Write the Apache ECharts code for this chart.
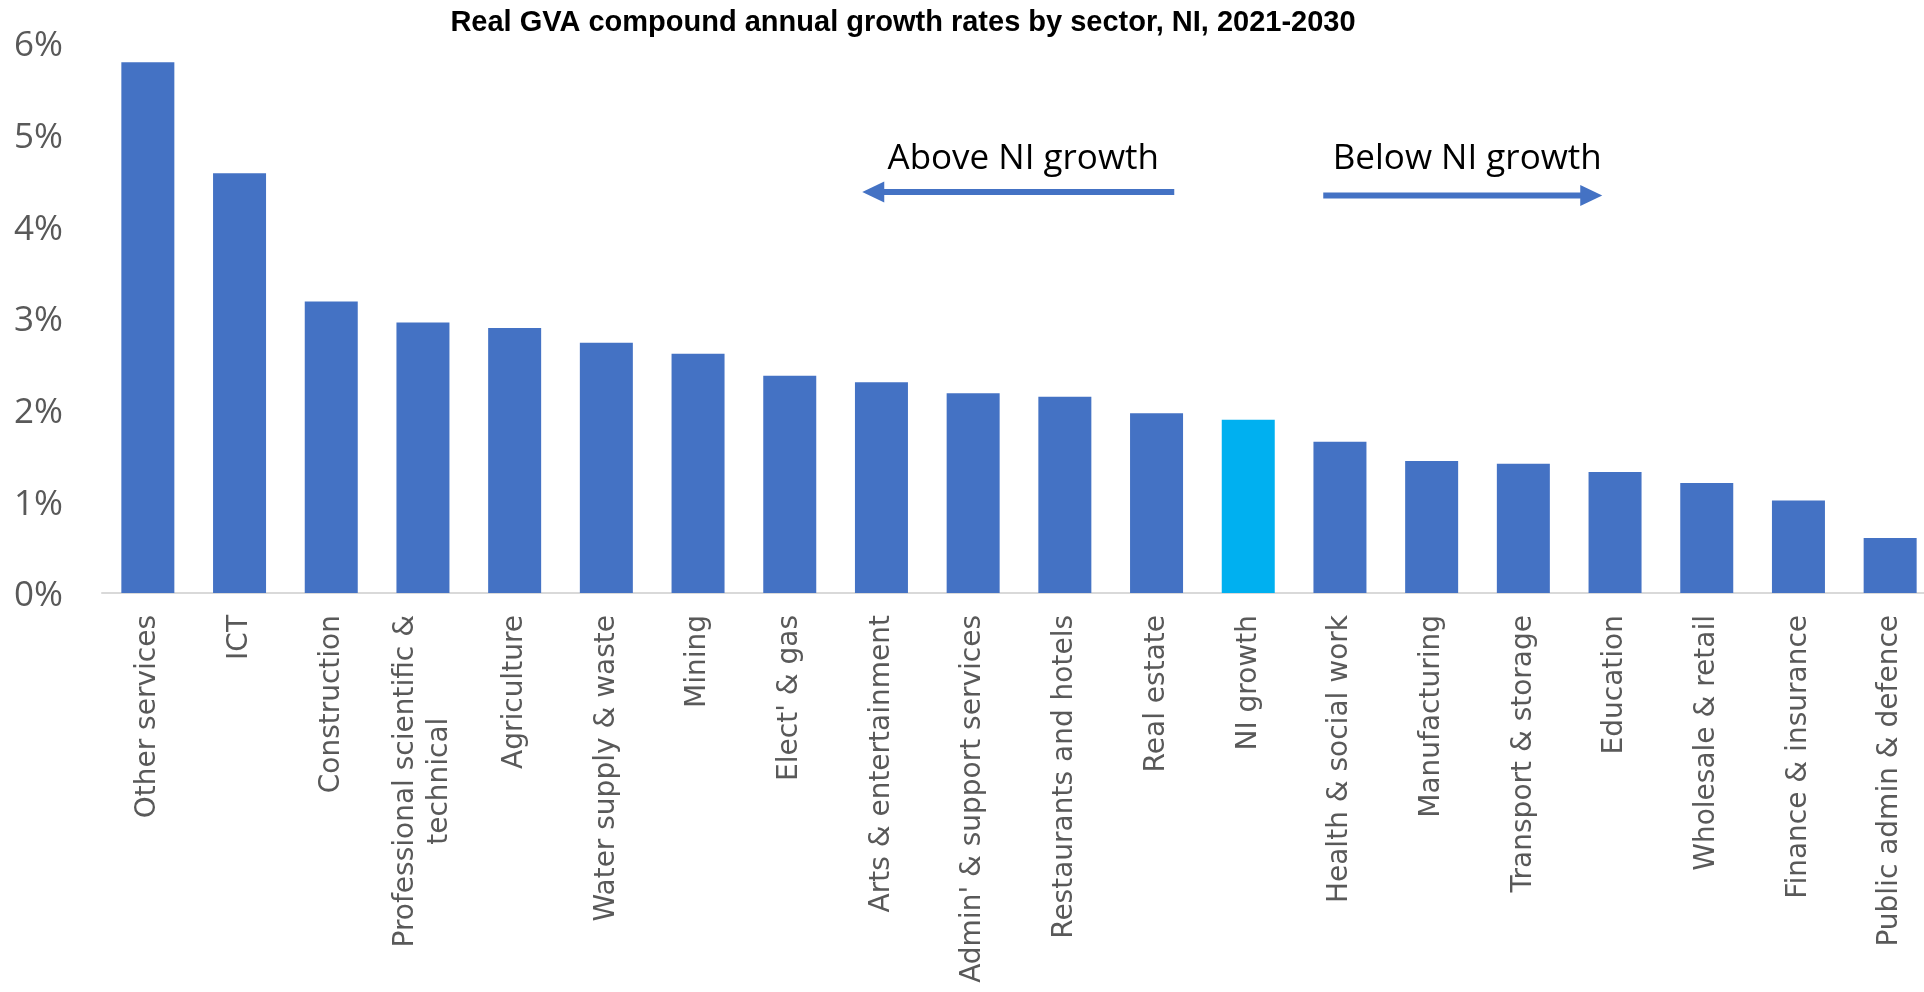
<!DOCTYPE html>
<html>
<head>
<meta charset="utf-8">
<title>Real GVA compound annual growth rates by sector, NI, 2021-2030</title>
<script src="https://cdn.jsdelivr.net/npm/echarts@6/dist/echarts.min.js"></script>
<style>
  html, body { margin: 0; padding: 0; background: #ffffff; }
  #chart { width: 1924px; height: 992px; }
</style>
</head>
<body>
<div id="chart"></div>
<script>
// Sectors, ordered from fastest to slowest growth
const sectors = [
  'Other services', 'ICT', 'Construction', 'Professional scientific &\ntechnical',
  'Agriculture', 'Water supply & waste', 'Mining', "Elect' & gas",
  'Arts & entertainment', "Admin' & support services", 'Restaurants and hotels',
  'Real estate', 'NI growth', 'Health & social work', 'Manufacturing',
  'Transport & storage', 'Education', 'Wholesale & retail', 'Finance & insurance',
  'Public admin & defence'
];

// Real GVA compound annual growth rate, % per year
const growthRates = [
  5.79, 4.58, 3.18, 2.95, 2.89, 2.73, 2.61, 2.37, 2.30, 2.18,
  2.14, 1.96, 1.89, 1.65, 1.44, 1.41, 1.32, 1.20, 1.01, 0.60
];

// Whole-economy benchmark bar
const benchmarkSector = 'NI growth';

// Value axis range and step (percent)
const yMin = 0;
const yMax = 6;
const yStep = 1;

const titleText = 'Real GVA compound annual growth rates by sector, NI, 2021-2030';
const aboveText = 'Above NI growth';
const belowText = 'Below NI growth';

const SECTOR_BLUE = '#4472C4';
const BENCHMARK_BLUE = '#00B0F0';
const LABEL_GREY = '#595959';

const chart = echarts.init(document.getElementById('chart'), null, { renderer: 'canvas' });

const barData = growthRates.map((v, i) => ({
  value: v,
  itemStyle: { color: sectors[i] === benchmarkSector ? BENCHMARK_BLUE : SECTOR_BLUE }
}));

chart.setOption({
  animation: false,
  backgroundColor: '#ffffff',
  title: {
    text: titleText,
    left: 898,
    top: 3,
    textAlign: 'center',
    textStyle: {
      fontFamily: 'Liberation Sans, Arial, sans-serif',
      fontWeight: 'bold',
      fontSize: 29,
      color: '#000000'
    }
  },
  grid: {
    left: 102,
    top: 43,
    width: 1834,
    height: 550,
    containLabel: false,
    outerBoundsMode: 'none'
  },
  xAxis: {
    type: 'category',
    data: sectors,
    axisTick: { show: false },
    axisLine: { show: true, lineStyle: { color: '#d9d9d9', width: 2 } },
    axisLabel: {
      interval: 0,
      rotate: 90,
      margin: 22,
      fontFamily: 'DejaVu Sans, sans-serif',
      fontSize: 28,
      color: LABEL_GREY,
      lineHeight: 34,
      formatter: (v) => v.split('\n').map(s => '{c|' + s + '}').join('\n'),
      rich: {
        c: {
          align: 'center',
          fontFamily: 'DejaVu Sans, sans-serif',
          fontSize: 28,
          color: LABEL_GREY,
          lineHeight: 34
        }
      }
    }
  },
  yAxis: {
    type: 'value',
    min: yMin,
    max: yMax,
    interval: yStep,
    axisLine: { show: false },
    axisTick: { show: false },
    splitLine: { show: false },
    axisLabel: {
      margin: 39,
      formatter: (v) => '{p|' + v + '%}',
      rich: {
        p: {
          fontFamily: 'Open Sans, sans-serif',
          fontSize: 35,
          color: LABEL_GREY,
          padding: [7, 0, 0, 0]
        }
      }
    }
  },
  series: [{
    type: 'bar',
    data: barData,
    barWidth: 53
  }]
});

// Direction arrows either side of the benchmark bar
const cx = chart.convertToPixel({ xAxisIndex: 0 }, benchmarkSector);
const leftArrow = { tip: cx - 386, tail: cx - 74, y: 192 };
const rightArrow = { tip: cx + 354, tail: cx + 75, y: 195.5 };
const headLen = 22, headHalf = 10.5, shaftHalf = 3;

chart.setOption({
  graphic: [
    {
      type: 'rect',
      shape: { x: leftArrow.tip + headLen - 1, y: leftArrow.y - shaftHalf, width: leftArrow.tail - leftArrow.tip - headLen + 1, height: shaftHalf * 2 },
      style: { fill: SECTOR_BLUE }
    },
    {
      type: 'polygon',
      shape: { points: [[leftArrow.tip, leftArrow.y], [leftArrow.tip + headLen, leftArrow.y - headHalf], [leftArrow.tip + headLen, leftArrow.y + headHalf]] },
      style: { fill: SECTOR_BLUE }
    },
    {
      type: 'rect',
      shape: { x: rightArrow.tail, y: rightArrow.y - shaftHalf, width: rightArrow.tip - rightArrow.tail - headLen + 1, height: shaftHalf * 2 },
      style: { fill: SECTOR_BLUE }
    },
    {
      type: 'polygon',
      shape: { points: [[rightArrow.tip, rightArrow.y], [rightArrow.tip - headLen, rightArrow.y - headHalf], [rightArrow.tip - headLen, rightArrow.y + headHalf]] },
      style: { fill: SECTOR_BLUE }
    },
    {
      type: 'text',
      x: cx - 225,
      y: 159,
      style: {
        text: aboveText,
        align: 'center',
        verticalAlign: 'middle',
        fontFamily: 'Open Sans, sans-serif',
        fontSize: 35,
        fill: '#000000'
      }
    },
    {
      type: 'text',
      x: cx + 219,
      y: 159,
      style: {
        text: belowText,
        align: 'center',
        verticalAlign: 'middle',
        fontFamily: 'Open Sans, sans-serif',
        fontSize: 35,
        fill: '#000000'
      }
    }
  ]
});
</script>
</body>
</html>
